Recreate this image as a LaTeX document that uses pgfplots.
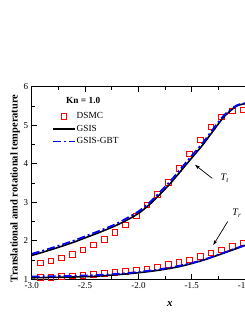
\documentclass[border=0pt]{standalone}
\usepackage{fontspec}
\setmainfont{Liberation Serif}
\usepackage{pgfplots}
\pgfplotsset{compat=1.18}
\usetikzlibrary{arrows.meta}
\pgfplotsset{
 lineleg/.style={legend image code/.code={\draw[##1] (0pt,0pt) -- (22pt,0pt);}},
 markleg/.style={legend image code/.code={\draw[##1] plot coordinates {(11pt,0pt)};}},
}
\begin{document}
\begin{tikzpicture}[x=1pt,y=1pt]
\useasboundingbox (0,0) rectangle (245,317);
\begin{axis}[
 at={(31.7pt,37.7pt)}, anchor=south west,
 scale only axis, width=277.4pt, height=192.6pt,
 xmin=-3, xmax=-0.4, ymin=1, ymax=6,
 xtick={-3,-2.5,-2,-1.5,-1,-0.5},
 ytick={1,2,3,4,5,6},
 minor x tick num=1, minor y tick num=1,
 tick align=inside, major tick length=5pt, minor tick length=3pt,
 /pgf/number format/assume math mode=true,
 xticklabel={\pgfmathprintnumber[fixed,fixed zerofill,precision=1]{\tick}},
 yticklabel={\pgfmathprintnumber[fixed,precision=0]{\tick}},
 ticklabel style={font=\fontsize{9}{10}\selectfont},
 axis line style={line width=0.8pt},
 every tick/.style={line width=0.7pt, black},
 clip mode=individual,
 xlabel={\textbf{\textit{x}}},
 xlabel style={at={(axis description cs:0.4985,-0.128)}, anchor=center, font=\fontsize{11}{12}\selectfont},
 ylabel={\textbf{Translational amd rotational temperature}},
 ylabel style={at={(axis description cs:-0.0600,0.4725)}, anchor=center, font=\fontsize{10.5}{12}\selectfont},
 legend style={at={(axis description cs:0.072,0.873)}, anchor=north west, draw=none, fill=none, inner sep=0pt, font=\fontsize{9.3}{10}\selectfont, row sep=3pt, nodes={inner sep=1pt}},
 legend cell align=left,
]
% DSMC Tt
\addplot[only marks, mark=square, mark size=2.8pt, red, line width=0.9pt, markleg]
 coordinates {
 (-3.02,1.37) (-2.92,1.42) (-2.82,1.48) (-2.72,1.55) (-2.62,1.65) (-2.52,1.76)
 (-2.42,1.89) (-2.32,2.03) (-2.22,2.21) (-2.12,2.41) (-2.02,2.64) (-1.92,2.93)
 (-1.82,3.20) (-1.72,3.52) (-1.62,3.88) (-1.52,4.25) (-1.42,4.62) (-1.32,4.95)
 (-1.22,5.21) (-1.12,5.37) (-1.02,5.40)};
\addlegendentry{DSMC}
% GSIS Tt
\addplot[black, line width=1.6pt, smooth, lineleg]
 coordinates {
 (-3.0,1.62) (-2.9,1.70) (-2.8,1.785) (-2.7,1.875) (-2.6,1.97) (-2.5,2.075)
 (-2.4,2.18) (-2.3,2.29) (-2.2,2.41) (-2.1,2.55) (-2.0,2.71) (-1.9,2.93)
 (-1.8,3.20) (-1.7,3.49) (-1.6,3.82) (-1.5,4.15) (-1.4,4.48) (-1.3,4.85)
 (-1.2,5.21) (-1.1,5.46) (-1.05,5.53) (-1.0,5.56)};
\addlegendentry{GSIS}
% GSIS-GBT Tt
\addplot[blue, line width=1.8pt, smooth, dash pattern=on 8pt off 3pt on 2pt off 3pt, lineleg]
 coordinates {
 (-3.0,1.66) (-2.9,1.74) (-2.8,1.825) (-2.7,1.915) (-2.6,2.01) (-2.5,2.115)
 (-2.4,2.22) (-2.3,2.33) (-2.2,2.45) (-2.1,2.60) (-2.0,2.76) (-1.9,2.98)
 (-1.8,3.26) (-1.7,3.55) (-1.6,3.88) (-1.5,4.21) (-1.4,4.53) (-1.3,4.90)
 (-1.2,5.25) (-1.1,5.48) (-1.05,5.545) (-1.0,5.57)};
\addlegendentry{GSIS-GBT}
% DSMC Tr
\addplot[only marks, mark=square, mark size=2.8pt, red, line width=0.9pt, forget plot]
 coordinates {
 (-3.02,1.05) (-2.92,1.05) (-2.82,1.05) (-2.72,1.07) (-2.62,1.09) (-2.52,1.10)
 (-2.42,1.13) (-2.32,1.15) (-2.22,1.18) (-2.12,1.21) (-2.02,1.24) (-1.92,1.27)
 (-1.82,1.31) (-1.72,1.38) (-1.62,1.44) (-1.52,1.50) (-1.42,1.59) (-1.32,1.68)
 (-1.22,1.76) (-1.12,1.86) (-1.02,1.94)};
% GSIS Tr
\addplot[black, line width=1.6pt, smooth, forget plot]
 coordinates {
 (-3.0,1.04) (-2.8,1.05) (-2.6,1.06) (-2.4,1.08) (-2.2,1.12) (-2.0,1.17)
 (-1.8,1.24) (-1.6,1.34) (-1.4,1.49) (-1.2,1.68) (-1.0,1.88)};
% GSIS-GBT Tr
\addplot[blue, line width=1.8pt, smooth, dash pattern=on 8pt off 3pt on 2pt off 3pt, forget plot]
 coordinates {
 (-3.0,1.07) (-2.8,1.08) (-2.6,1.09) (-2.4,1.11) (-2.2,1.14) (-2.0,1.19)
 (-1.8,1.26) (-1.6,1.36) (-1.4,1.50) (-1.2,1.69) (-1.0,1.89)};
% annotations
\node[anchor=west, font=\fontsize{9.3}{10}\selectfont\bfseries] at (axis description cs:0.1118,0.927) {Kn = 1.0};
\draw[-{Stealth[length=5pt,width=3.5pt]}, line width=0.7pt] (axis cs:-1.307,3.62) -- (axis cs:-1.469,3.97);
\node[anchor=west, font=\fontsize{10}{11}\selectfont\itshape, inner sep=0pt] at (axis cs:-1.23,3.62) {T\textsubscript{t}};
\draw[-{Stealth[length=5pt,width=3.5pt]}, line width=0.7pt] (axis cs:-1.163,2.50) -- (axis cs:-1.298,1.89);
\node[anchor=west, font=\fontsize{10}{11}\selectfont\itshape, inner sep=0pt] at (axis cs:-1.12,2.71) {T\textsubscript{r}};
\end{axis}
\end{tikzpicture}
\end{document}
